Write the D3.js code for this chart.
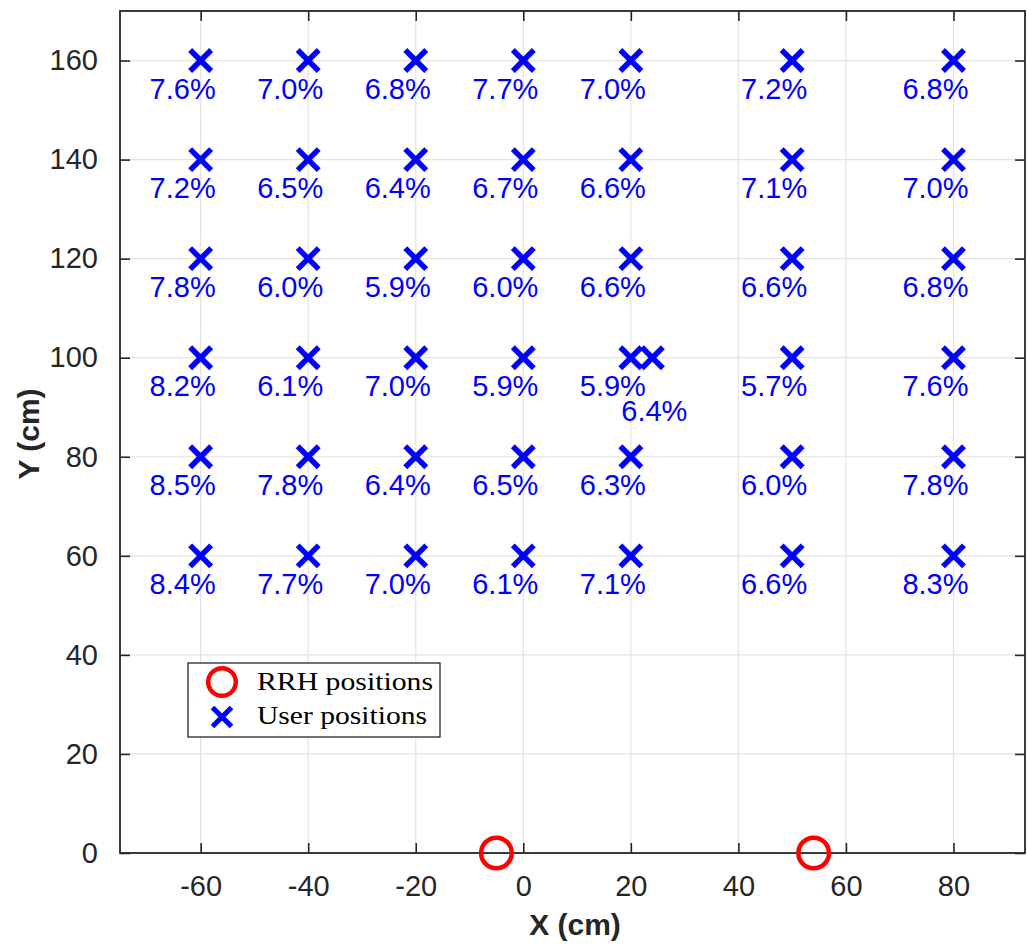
<!DOCTYPE html>
<html>
<head>
<meta charset="utf-8">
<script src="https://cdn.jsdelivr.net/npm/d3@7"></script>
<style>
  html, body { margin: 0; padding: 0; background: #fff; }
  svg { display: block; }
</style>
</head>
<body>
<svg id="chart" width="1027" height="951"></svg>
<script>
// User grid: columns (cm) and rows (cm)
const userX = [-60, -40, -20, 0, 20, 50, 80];
const userY = [160, 140, 120, 100, 80, 60];
// Percentage per grid point, one row per userY entry, one column per userX entry
const userPct = [
  [7.6, 7.0, 6.8, 7.7, 7.0, 7.2, 6.8],
  [7.2, 6.5, 6.4, 6.7, 6.6, 7.1, 7.0],
  [7.8, 6.0, 5.9, 6.0, 6.6, 6.6, 6.8],
  [8.2, 6.1, 7.0, 5.9, 5.9, 5.7, 7.6],
  [8.5, 7.8, 6.4, 6.5, 6.3, 6.0, 7.8],
  [8.4, 7.7, 7.0, 6.1, 7.1, 6.6, 8.3]
];
// One extra user placed next to the (20, 100) point
const extraUser = { x: 24, y: 100, pct: 6.4 };
// Remote radio head positions (cm)
const rrhX = [-5, 54];
const rrhY = [0, 0];
// Axis ticks
const xTicks = [-60, -40, -20, 0, 20, 40, 60, 80];
const yTicks = [0, 20, 40, 60, 80, 100, 120, 140, 160];
const legendLabels = ["RRH positions", "User positions"];

const svg = d3.select("#chart");
const L = 120, R = 1025, T = 11, B = 853;
const x = d3.scaleLinear().domain([-75, 93.3]).range([L, R]);
const y = d3.scaleLinear().domain([0, 170]).range([B, T]);

const axisColor = "#262626";
const gridColor = "#e3e3e3";
const sans = "'Liberation Sans', Arial, Helvetica, sans-serif";
const serif = "'Liberation Serif', 'Times New Roman', serif";
const plain = d => String(d);

// Grid
const grid = svg.append("g");
grid.selectAll("line.vx").data(xTicks).join("line")
  .attr("x1", d => x(d)).attr("x2", d => x(d))
  .attr("y1", T).attr("y2", B)
  .attr("stroke", gridColor).attr("stroke-width", 1.2);
grid.selectAll("line.hy").data(yTicks).join("line")
  .attr("y1", d => y(d)).attr("y2", d => y(d))
  .attr("x1", L).attr("x2", R)
  .attr("stroke", gridColor).attr("stroke-width", 1.2);

// Axes (ticks pointing inward on all four sides)
function styleAxis(g) {
  g.select(".domain").remove();
  g.selectAll(".tick line").attr("stroke", axisColor).attr("stroke-width", 1.6);
  g.selectAll(".tick text").attr("fill", axisColor)
    .style("font-family", sans).style("font-size", "29px");
}
svg.append("g").attr("transform", `translate(0,${B})`)
  .call(d3.axisBottom(x).tickValues(xTicks).tickSizeInner(-10).tickSizeOuter(0).tickPadding(22).tickFormat(plain))
  .call(styleAxis)
  .selectAll(".tick text").attr("dy", "0.71em");
svg.append("g").attr("transform", `translate(0,${T})`)
  .call(d3.axisTop(x).tickValues(xTicks).tickSizeInner(-10).tickSizeOuter(0).tickFormat(""))
  .call(styleAxis);
svg.append("g").attr("transform", `translate(${L},0)`)
  .call(d3.axisLeft(y).tickValues(yTicks).tickSizeInner(-10).tickSizeOuter(0).tickPadding(22).tickFormat(plain))
  .call(styleAxis);
svg.append("g").attr("transform", `translate(${R},0)`)
  .call(d3.axisRight(y).tickValues(yTicks).tickSizeInner(-10).tickSizeOuter(0).tickFormat(""))
  .call(styleAxis);

// Box
svg.append("rect").attr("x", L).attr("y", T).attr("width", R - L).attr("height", B - T)
  .attr("fill", "none").attr("stroke", axisColor).attr("stroke-width", 1.8);

// Axis titles
svg.append("text").attr("x", 575).attr("y", 935).attr("text-anchor", "middle")
  .attr("fill", axisColor).style("font-family", sans).style("font-size", "30px").style("font-weight", "bold")
  .text("X (cm)");
svg.append("text").attr("transform", "translate(39,434) rotate(-90)").attr("text-anchor", "middle")
  .attr("fill", axisColor).style("font-family", sans).style("font-size", "30px").style("font-weight", "bold")
  .text("Y (cm)");

// Marker helpers
function cross(g, cx, cy, arm, w) {
  g.append("line").attr("x1", cx - arm).attr("y1", cy - arm).attr("x2", cx + arm).attr("y2", cy + arm)
    .attr("stroke", "#0000ff").attr("stroke-width", w);
  g.append("line").attr("x1", cx - arm).attr("y1", cy + arm).attr("x2", cx + arm).attr("y2", cy - arm)
    .attr("stroke", "#0000ff").attr("stroke-width", w);
}

// User points with their percentage labels
const users = [];
userY.forEach((yy, i) => userX.forEach((xx, j) => users.push({ x: xx, y: yy, pct: userPct[i][j], shifted: false })));
users.push({ x: extraUser.x, y: extraUser.y, pct: extraUser.pct, shifted: true });

const marks = svg.append("g");
users.forEach(u => cross(marks, x(u.x), y(u.y), 10.5, 5.5));

svg.append("g").selectAll("text").data(users).join("text")
  .attr("x", d => x(d.x) + (d.shifted ? 2 : -18))
  .attr("y", d => y(d.y) + (d.shifted ? 63 : 38))
  .attr("text-anchor", "middle")
  .attr("fill", "#0000ff")
  .style("font-family", sans).style("font-size", "29px")
  .text(d => d.pct.toFixed(1) + "%");

// RRH markers
svg.append("g").selectAll("circle").data(rrhX.map((d, i) => ({ x: d, y: rrhY[i] }))).join("circle")
  .attr("cx", d => x(d.x)).attr("cy", d => y(d.y)).attr("r", 15.3)
  .attr("fill", "none").attr("stroke", "#ff0000").attr("stroke-width", 4.5);

// Legend
const lg = svg.append("g");
lg.append("rect").attr("x", 188).attr("y", 663).attr("width", 252).attr("height", 74)
  .attr("fill", "#fff").attr("stroke", axisColor).attr("stroke-width", 1.3);
lg.append("circle").attr("cx", 222).attr("cy", 682).attr("r", 13.8)
  .attr("fill", "none").attr("stroke", "#ff0000").attr("stroke-width", 4.5);
cross(lg, 222, 717, 9.5, 5.2);
lg.selectAll("text").data(legendLabels).join("text")
  .attr("x", 257).attr("y", (d, i) => 690 + i * 34)
  .attr("fill", "#000")
  .style("font-family", serif).style("font-size", "26px")
  .attr("textLength", (d, i) => i === 0 ? 176 : 170)
  .attr("lengthAdjust", "spacingAndGlyphs")
  .text(d => d);
</script>
</body>
</html>
